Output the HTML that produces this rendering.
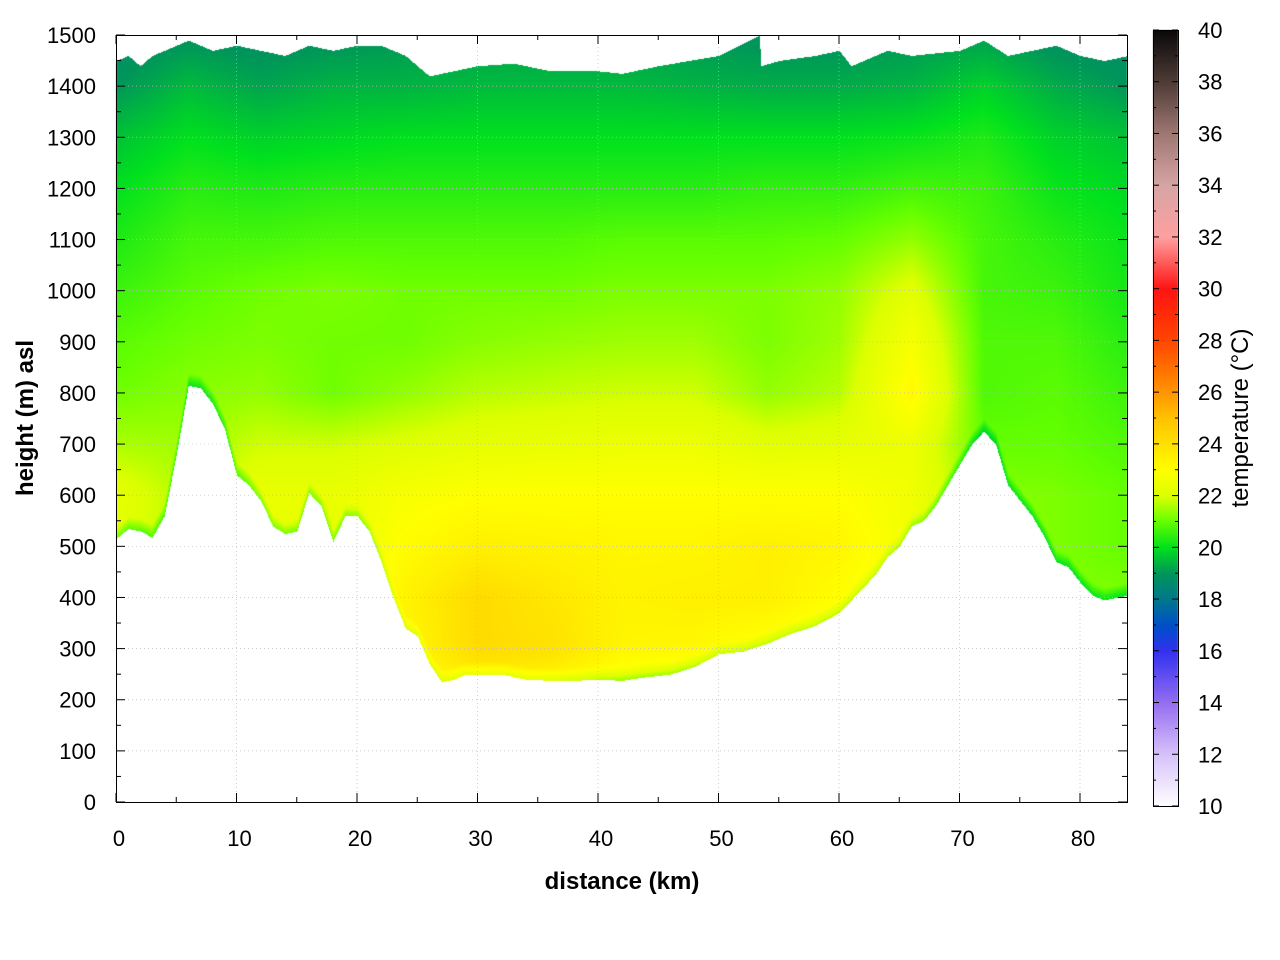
<!DOCTYPE html>
<html><head><meta charset="utf-8">
<style>
html,body{margin:0;padding:0;background:#fff;}
#wrap{position:relative;width:1280px;height:960px;font-family:"Liberation Sans",sans-serif;}
canvas,svg{position:absolute;left:0;top:0;}
</style></head>
<body>
<div id="wrap">
<canvas id="cv" width="1280" height="960"></canvas>
<svg id="sv" width="1280" height="960"></svg>
</div>
<script>
// ---- data ----
const groundKm = [0,1,2,3,4,5,6,7,8,9,10,11,12,13,14,15,16,17,18,19,20,21,22,23,24,25,26,27,28,29,30,32,34,36,38,40,42,44,46,48,50,52,54,56,58,60,62,63,64,65,66,67,68,69,70,71,72,73,74,75,76,77,78,79,80,81,82,83,84];
const groundM = [515,535,530,518,560,680,815,810,780,730,640,620,590,540,525,530,605,580,510,560,560,530,470,400,340,325,270,235,240,250,250,250,240,238,238,240,238,245,250,265,290,295,310,330,345,370,420,445,480,500,540,550,580,620,660,700,725,700,620,590,560,520,470,460,430,405,395,400,405];
const topKm = [0,1,2,3,4,5,6,7,8,10,12,14,16,18,20,22,24,25,26,28,30,33,36,40,42,45,50,53.4,53.5,55,58,60,61,64,66,70,72,74,76,78,80,82,84];
const topM = [1450,1460,1440,1460,1470,1480,1490,1480,1470,1480,1470,1460,1480,1470,1480,1480,1460,1440,1420,1430,1440,1445,1430,1430,1425,1440,1460,1500,1440,1450,1460,1470,1440,1470,1460,1470,1490,1460,1470,1480,1460,1450,1460];
const gridKm = [0,6,12,18,24,30,36,42,48,54,60,66,72,78,84];
const gridH = [1500,1400,1300,1200,1100,1000,900,800,700,600,500,400,300,200,100,0];
const tempRows = [
[18.7,18.9,18.8,18.9,19.0,19.1,19.1,19.1,19.0,18.9,18.9,19.0,19.1,18.8,18.7],
[19.0,19.5,19.2,19.4,19.4,19.5,19.5,19.5,19.4,19.3,19.3,19.4,19.8,19.3,19.0],
[19.6,20.0,19.8,19.9,20.0,20.0,20.0,20.0,20.0,20.0,20.0,20.1,20.3,19.8,19.6],
[20.0,20.4,20.3,20.4,20.4,20.4,20.4,20.4,20.4,20.5,20.5,20.7,20.6,20.1,19.9],
[20.3,20.7,20.7,20.8,20.8,20.8,20.8,20.9,20.9,20.9,21.0,21.4,20.7,20.4,20.1],
[20.6,20.9,21.1,21.2,21.1,21.1,21.1,21.2,21.2,21.2,21.4,22.2,20.7,20.6,20.2],
[20.9,21.1,21.2,21.1,21.1,21.3,21.4,21.5,21.5,21.2,21.5,22.8,20.8,20.8,20.4],
[21.1,21.3,21.4,21.1,21.4,21.7,21.8,21.9,21.9,21.4,21.7,23.2,20.8,20.9,20.6],
[21.6,21.5,21.9,21.9,22.1,22.3,22.4,22.5,22.5,22.2,22.3,22.5,21.0,21.0,20.8],
[22.3,21.6,22.4,22.4,22.8,23.0,23.0,23.0,23.0,23.0,23.0,22.6,21.3,21.2,21.0],
[22.2,21.6,22.4,22.2,23.1,23.5,23.4,23.3,23.3,23.5,23.3,22.6,21.5,21.2,21.0],
[22.0,21.6,22.4,22.2,23.4,24.2,23.8,23.4,23.5,23.5,23.0,22.5,21.5,21.3,21.2],
[22.0,21.6,22.4,22.2,23.2,24.2,24.0,23.3,23.2,22.8,22.5,22.5,21.5,21.3,21.2],
[22.0,21.6,22.4,22.2,23.0,23.0,22.8,22.2,22.0,22.5,22.5,22.5,21.5,21.3,21.2],
[22.0,21.6,22.4,22.2,23.0,23.0,22.8,22.2,22.0,22.5,22.5,22.5,21.5,21.3,21.2],
[22.0,21.6,22.4,22.2,23.0,23.0,22.8,22.2,22.0,22.5,22.5,22.5,21.5,21.3,21.2]];
const xTicks = [0,10,20,30,40,50,60,70,80];
const yTicks = [0,100,200,300,400,500,600,700,800,900,1000,1100,1200,1300,1400,1500];
const cbTicks = [10,12,14,16,18,20,22,24,26,28,30,32,34,36,38,40];
const cmapT = [10,12,14,16,17,18,19,20,21,22,23,24,25,26,28,30,32,34,36,38,40];
const cmapC = [[255,255,255],[215,195,250],[150,110,240],[50,50,240],[0,80,200],[0,120,140],[0,150,90],[0,225,30],[100,255,0],[220,255,0],[255,255,0],[255,225,0],[255,195,0],[255,150,0],[255,70,0],[255,20,20],[255,160,160],[215,165,165],[160,120,115],[80,60,55],[10,10,10]];

// ---- axes ----
const PX0=116, PX1=1127, PY0=802, PY1=35, KPX=12.05;
const sx = km => PX0 + km*KPX;
const sy = m => PY0 - (m/1500)*(PY0-PY1);
const CB={x:1153,w:25,y0:806,y1:30,t0:10,t1:40};
const cy = t => CB.y0 - (t-CB.t0)/(CB.t1-CB.t0)*(CB.y0-CB.y1);

function color(t){
  if(t<=cmapT[0]) return cmapC[0];
  for(let i=1;i<cmapT.length;i++){ if(t<=cmapT[i]){const f=(t-cmapT[i-1])/(cmapT[i]-cmapT[i-1]);const a=cmapC[i-1],b=cmapC[i];return [a[0]+(b[0]-a[0])*f,a[1]+(b[1]-a[1])*f,a[2]+(b[2]-a[2])*f];}}
  return cmapC[cmapC.length-1];
}
function interp1(xs,ys,x){ if(x<=xs[0])return ys[0]; for(let i=1;i<xs.length;i++){if(x<=xs[i]){const f=(x-xs[i-1])/(xs[i]-xs[i-1]);return ys[i-1]+(ys[i]-ys[i-1])*f;}} return ys[ys.length-1]; }
function temp(km,h){
  let ci=0; while(ci<gridKm.length-2 && km>gridKm[ci+1]) ci++;
  let fx=(km-gridKm[ci])/(gridKm[ci+1]-gridKm[ci]); fx=Math.max(0,Math.min(1,fx));
  let ri=0; while(ri<gridH.length-2 && h<gridH[ri+1]) ri++;
  let fy=(gridH[ri]-h)/(gridH[ri]-gridH[ri+1]); fy=Math.max(0,Math.min(1,fy));
  const a=tempRows[ri][ci],b=tempRows[ri][ci+1],c=tempRows[ri+1][ci],d=tempRows[ri+1][ci+1];
  return (a*(1-fx)+b*fx)*(1-fy)+(c*(1-fx)+d*fx)*fy;
}
const cv=document.getElementById('cv'),ctx=cv.getContext('2d');
const img=ctx.createImageData(PX1-PX0,PY0-PY1);
for(let px=0;px<PX1-PX0;px++){
  const km=px/KPX;
  const g=interp1(groundKm,groundM,km), tp=interp1(topKm,topM,km);
  for(let py=0;py<PY0-PY1;py++){
    const h=(PY0-PY1-py)/(PY0-PY1)*1500;
    if(h<g||h>tp) continue;
    let t=temp(km,h);
    if(h-g<25) t-=1.2*(1-(h-g)/25);
    const c=color(t), k=(py*(PX1-PX0)+px)*4;
    img.data[k]=c[0];img.data[k+1]=c[1];img.data[k+2]=c[2];img.data[k+3]=255;
  }
}
ctx.putImageData(img,PX0,PY1);
for(let y=CB.y1;y<CB.y0;y++){
  const t=CB.t1-(y-CB.y1)/(CB.y0-CB.y1)*(CB.t1-CB.t0);
  const c=color(t); ctx.fillStyle=`rgb(${c[0]|0},${c[1]|0},${c[2]|0})`; ctx.fillRect(CB.x,y,CB.w,1);
}
const sv=document.getElementById('sv'), NS='http://www.w3.org/2000/svg';
function el(tag,attrs,parent){const e=document.createElementNS(NS,tag);for(const k in attrs)e.setAttribute(k,attrs[k]);(parent||sv).appendChild(e);return e;}
const grid=el('g',{});


xTicks.forEach(v=>{if(v>0)el('line',{x1:sx(v),x2:sx(v),y1:PY1,y2:PY0,stroke:'#bbb','stroke-width':0.7,'stroke-dasharray':'1,3'},grid);});
yTicks.forEach(v=>{if(v>0&&v<1500)el('line',{x1:PX0,x2:PX1,y1:sy(v),y2:sy(v),stroke:'#bbb','stroke-width':0.7,'stroke-dasharray':'1,3'},grid);});
const ax=el('g',{stroke:'#000','stroke-width':1,fill:'none'});


el('rect',{x:PX0+0.5,y:PY1+0.5,width:PX1-PX0,height:PY0-PY1},ax);
for(let k=0;k<=84;k+=5){const x=sx(k),L=(k%10==0)?9:5;el('line',{x1:x,x2:x,y1:PY0,y2:PY0-L},ax);el('line',{x1:x,x2:x,y1:PY1,y2:PY1+L},ax);}
for(let m=0;m<=1500;m+=50){const y=sy(m),L=(m%100==0)?9:5;el('line',{x1:PX0,x2:PX0+L,y1:y,y2:y},ax);el('line',{x1:PX1,x2:PX1-L,y1:y,y2:y},ax);}
const tl=el('g',{'font-size':22,fill:'#000'});


xTicks.forEach(v=>{const t=el('text',{x:sx(v)+3,y:846,'text-anchor':'middle'},tl);t.textContent=v;});
yTicks.forEach(v=>{const t=el('text',{x:96,y:sy(v)+8,'text-anchor':'end'},tl);t.textContent=v;});
el('rect',{x:CB.x+0.5,y:CB.y1+0.5,width:CB.w,height:CB.y0-CB.y1,fill:'none',stroke:'#000'});
cbTicks.forEach(v=>{const y=cy(v);el('line',{x1:CB.x,x2:CB.x+6,y1:y,y2:y,stroke:'#000'});el('line',{x1:CB.x+CB.w,x2:CB.x+CB.w-6,y1:y,y2:y,stroke:'#000'});const t=el('text',{x:1198,y:y+8},tl);t.textContent=v;});
for(let v=11;v<40;v+=2){const y=cy(v);el('line',{x1:CB.x,x2:CB.x+3,y1:y,y2:y,stroke:'#000'});el('line',{x1:CB.x+CB.w,x2:CB.x+CB.w-3,y1:y,y2:y,stroke:'#000'});}
const xt=el('text',{x:622,y:889,'font-size':24,'font-weight':'bold','text-anchor':'middle'});xt.textContent='distance (km)';


const yt=el('text',{x:0,y:0,'font-size':24,'font-weight':'bold','text-anchor':'middle',transform:'translate(33,418) rotate(-90)'});yt.textContent='height (m) asl';


const ct=el('text',{x:0,y:0,'font-size':24,'text-anchor':'middle',transform:'translate(1248,418) rotate(-90)'});ct.textContent='temperature (°C)';


</script>
</body></html>
